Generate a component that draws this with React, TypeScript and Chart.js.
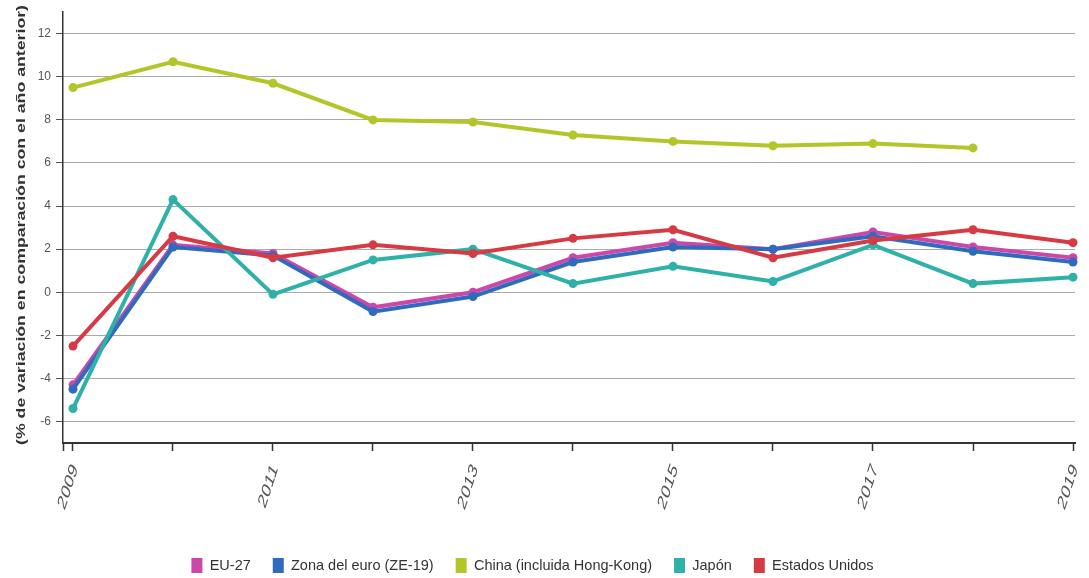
import { useEffect, useRef } from 'react';
import { Chart, registerables } from 'chart.js';

Chart.register(...registerables);

const years = [2009, 2010, 2011, 2012, 2013, 2014, 2015, 2016, 2017, 2018, 2019];
const eu27 = [-4.3, 2.2, 1.8, -0.7, 0.0, 1.6, 2.3, 2.0, 2.8, 2.1, 1.6];
const zonaEuro = [-4.5, 2.1, 1.7, -0.9, -0.2, 1.4, 2.1, 2.0, 2.6, 1.9, 1.4];
const china = [9.5, 10.7, 9.7, 8.0, 7.9, 7.3, 7.0, 6.8, 6.9, 6.7, null];
const japon = [-5.4, 4.3, -0.1, 1.5, 2.0, 0.4, 1.2, 0.5, 2.2, 0.4, 0.7];
const estadosUnidos = [-2.5, 2.6, 1.6, 2.2, 1.8, 2.5, 2.9, 1.6, 2.4, 2.9, 2.3];

const seriesNames = ['EU-27', 'Zona del euro (ZE-19)', 'China (incluida Hong-Kong)', 'Japón', 'Estados Unidos'];
const seriesColors = ['#cc48a8', '#2e6bbf', '#b4c52a', '#2fb0a8', '#d63a44'];
const seriesValues = [eu27, zonaEuro, china, japon, estadosUnidos];
const drawOrder = [4, 3, 2, 1, 0];

const xLabelYears = [2009, 2011, 2013, 2015, 2017, 2019];
const yTickValues = [-6, -4, -2, 0, 2, 4, 6, 8, 10, 12];
const yTitle = '(% de variación en comparación con el año anterior)';

const X_MIN = 2008.9;
const X_MAX = 2019.02;
const Y_MIN = -7;
const Y_MAX = 13;
const CANVAS_W = 1089;
const CANVAS_H = 578;
const PLOT_BOTTOM = 443;

const legendShift = {
  id: 'legendShift',
  afterLayout(chart: any) {
    const l = chart.legend;
    if (!l) return;
    const h = l.height;
    l.top = CANVAS_H - h + 5;
    l.bottom = l.top + h;
    l.left -= 5;
    l.right -= 5;
  },
};

const stretchedText = {
  id: 'stretchedText',
  afterDraw(chart: any) {
    const ctx = chart.ctx;
    const xs = chart.scales.x;
    ctx.save();
    ctx.fillStyle = '#555';
    ctx.font = "13px 'Liberation Sans', Arial, sans-serif";
    ctx.textAlign = 'right';
    ctx.textBaseline = 'middle';
    xLabelYears.forEach((v) => {
      const px = xs.getPixelForValue(v);
      ctx.save();
      ctx.translate(px + 2, xs.top + 23);
      ctx.scale(1, 1.65);
      ctx.rotate((-62 * Math.PI) / 180);
      ctx.fillText(String(v), 0, 0);
      ctx.restore();
    });
    ctx.font = "bold 13px 'Liberation Sans', Arial, sans-serif";
    ctx.fillStyle = '#333';
    ctx.textAlign = 'center';
    ctx.textBaseline = 'middle';
    const w = ctx.measureText(yTitle).width;
    ctx.translate(21, 225);
    ctx.rotate(-Math.PI / 2);
    ctx.scale(440 / w, 1);
    ctx.fillText(yTitle, 0, 0);
    ctx.restore();
  },
};

export default function App() {
  const ref = useRef<HTMLCanvasElement | null>(null);

  useEffect(() => {
    if (!ref.current) return;
    const chart = new Chart(ref.current, {
      type: 'line',
      data: {
        datasets: seriesNames.map((name, i) => ({
          label: name,
          data: years.map((y, j) => ({ x: y, y: seriesValues[i][j] })),
          borderColor: seriesColors[i],
          backgroundColor: seriesColors[i],
          pointBackgroundColor: seriesColors[i],
          pointBorderColor: seriesColors[i],
          borderWidth: 4,
          pointRadius: 4.5,
          pointBorderWidth: 0,
          tension: 0,
          clip: false,
          order: drawOrder[i],
          spanGaps: false,
        })),
      },
      plugins: [legendShift, stretchedText],
      options: {
        animation: false,
        responsive: false,
        layout: { padding: { top: 10, right: 14, left: 0, bottom: 0 } },
        plugins: {
          tooltip: { enabled: false },
          legend: {
            position: 'bottom',
            labels: {
              boxWidth: 11,
              boxHeight: 15,
              padding: 22,
              color: '#333',
              font: { family: "'Liberation Sans', Arial, sans-serif", size: 14.5 },
              sort: (a: any, b: any) => a.datasetIndex - b.datasetIndex,
              generateLabels: (c: any) =>
                (Chart.defaults.plugins.legend.labels as any).generateLabels(c).map((l: any) => ({ ...l, lineWidth: 0 })),
            },
          },
        },
        scales: {
          x: {
            type: 'linear',
            min: X_MIN,
            max: X_MAX,
            afterBuildTicks: (s: any) => {
              s.ticks = [{ value: X_MIN }, ...years.map((v) => ({ value: v }))];
            },
            afterFit: (s: any) => {
              const lh = s.chart.legend ? s.chart.legend.height : 0;
              s.height = CANVAS_H - lh - PLOT_BOTTOM;
            },
            ticks: { display: false, autoSkip: false },
            grid: {
              drawOnChartArea: false,
              drawTicks: true,
              tickLength: 8,
              tickColor: '#333',
              tickWidth: 1.5,
            },
            border: { display: true, color: '#333', width: 2 },
          },
          y: {
            type: 'linear',
            min: Y_MIN,
            max: Y_MAX,
            afterBuildTicks: (s: any) => {
              s.ticks = yTickValues.map((v) => ({ value: v }));
            },
            afterFit: (s: any) => {
              s.width = 63;
            },
            ticks: {
              padding: 5,
              color: '#555',
              font: { family: "'Liberation Sans', Arial, sans-serif", size: 12 },
              callback: (v: any) => String(v),
            },
            grid: {
              color: '#555',
              lineWidth: 1,
              tickLength: 7,
              tickColor: '#555',
              tickWidth: 1,
            },
            border: { display: true, color: '#333', width: 1.5, dash: [1, 1] },
          },
        },
      },
    });
    return () => chart.destroy();
  }, []);

  return (
    <div style={{ position: 'absolute', left: 0, top: 0, width: CANVAS_W, height: CANVAS_H, background: '#fff' }}>
      <canvas ref={ref} width={CANVAS_W} height={CANVAS_H} style={{ display: 'block' }} />
    </div>
  );
}
